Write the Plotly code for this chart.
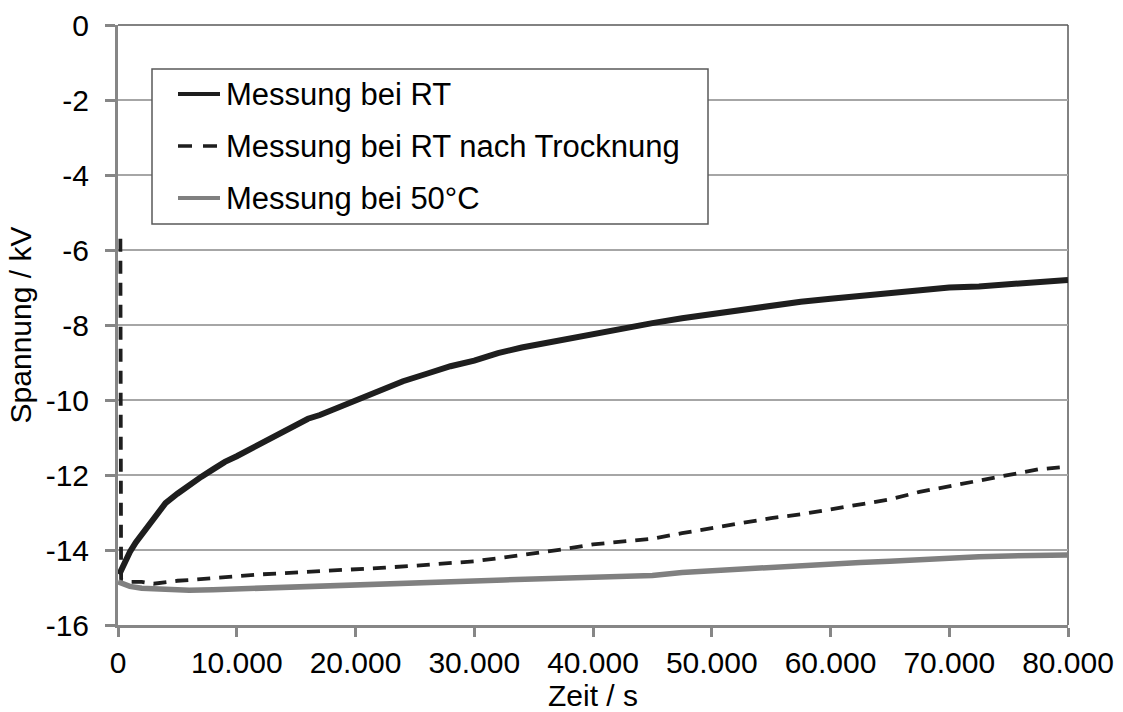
import plotly.graph_objects as go

# Zeit / s und Spannung / kV der drei Messreihen
t_rt = [100, 500, 1000, 1500, 2000, 2500, 3000, 4000, 5000, 6000, 7000, 8000, 9000,
        10000, 11000, 12000, 13000, 14000, 15000, 16000, 17000, 18000, 19000, 20000,
        22000, 24000, 26000, 28000, 30000, 32000, 34000, 36000, 38000, 40000,
        42500, 45000, 47500, 50000, 52500, 55000, 57500, 60000, 62500, 65000,
        67500, 70000, 72500, 75000, 77500, 80000]
u_rt = [-14.65, -14.35, -14.05, -13.80, -13.58, -13.38, -13.15, -12.75, -12.50, -12.25,
        -12.05, -11.85, -11.65, -11.50, -11.33, -11.18, -11.00, -10.85, -10.65, -10.50,
        -10.40, -10.27, -10.12, -10.00, -9.75, -9.50, -9.30, -9.10, -8.95, -8.75,
        -8.60, -8.48, -8.35, -8.22, -8.08, -7.95, -7.82, -7.70, -7.58, -7.48,
        -7.38, -7.30, -7.22, -7.15, -7.07, -7.00, -6.97, -6.92, -6.85, -6.80]

t_dry = [200, 260, 1000, 2000, 3000, 4000, 5000, 6000, 7000, 8000, 10000, 12000,
         14000, 16000, 18000, 20000, 22500, 25000, 27500, 30000, 32500, 35000,
         37500, 40000, 42500, 45000, 47500, 50000, 52500, 55000, 57500, 60000,
         62500, 65000, 67500, 70000, 72500, 75000, 77500, 80000]
u_dry = [-5.70, -14.80, -14.85, -14.85, -14.90, -14.85, -14.82, -14.80, -14.78, -14.75,
         -14.70, -14.65, -14.62, -14.58, -14.56, -14.52, -14.47, -14.42, -14.36, -14.30,
         -14.20, -14.10, -13.98, -13.85, -13.78, -13.70, -13.55, -13.42, -13.28, -13.15,
         -13.05, -12.92, -12.80, -12.65, -12.45, -12.30, -12.15, -12.02, -11.85, -11.78]

t_50 = [0, 1000, 2000, 4000, 6000, 8000, 10000, 12000, 15000, 18000, 20000, 22500,
        25000, 27500, 30000, 32500, 35000, 37500, 40000, 42500, 45000, 47500, 50000,
        52500, 55000, 57500, 60000, 62500, 65000, 67500, 70000, 72500, 75000, 77500,
        80000]
u_50 = [-14.85, -14.97, -15.02, -15.06, -15.07, -15.06, -15.04, -15.02, -15.00, -14.98,
        -14.96, -14.93, -14.90, -14.87, -14.85, -14.80, -14.77, -14.75, -14.73, -14.72,
        -14.68, -14.60, -14.55, -14.50, -14.45, -14.42, -14.38, -14.33, -14.30, -14.25,
        -14.22, -14.18, -14.16, -14.15, -14.13]

series_names = ["Messung bei RT", "Messung bei RT nach Trocknung", "Messung bei 50°C"]

x_tickvals = [0, 10000, 20000, 30000, 40000, 50000, 60000, 70000, 80000]
x_ticktext = ["0", "10.000", "20.000", "30.000", "40.000", "50.000", "60.000", "70.000", "80.000"]
y_tickvals = [0, -2, -4, -6, -8, -10, -12, -14, -16]
y_ticktext = ["0", "-2", "-4", "-6", "-8", "-10", "-12", "-14", "-16"]

FONT = "Liberation Sans, Arial, Helvetica, sans-serif"
AXIS_GREY = "#868686"
GRID_GREY = "#a6a6a6"
BORDER = "#595959"
DARK = "#1e1e1e"
GREY_LINE = "#808080"
DASH = "13px,9px"

styles = [
    dict(color=DARK, width=6),
    dict(color=DARK, width=3.8, dash=DASH),
    dict(color=GREY_LINE, width=5.5),
]

fig = go.Figure()
for (tx, uy), name, st in zip([(t_rt, u_rt), (t_dry, u_dry), (t_50, u_50)],
                              series_names, styles):
    fig.add_trace(go.Scatter(x=tx, y=uy, mode="lines", name=name,
                             showlegend=False, line=st))

# plot area in pixels: x 118..1068, y 25..625
L, R, T, B = 118, 1068, 25, 625
def px(xp):
    return (xp - L) / (R - L)
def py(yp):
    return (B - yp) / (B - T)

fig.update_layout(
    width=1123, height=712,
    margin=dict(l=L, r=1123 - R, t=T, b=712 - B),
    paper_bgcolor="white", plot_bgcolor="white",
    font=dict(family=FONT, size=30, color="#000000"),
    showlegend=False,
    xaxis=dict(range=[0, 80000], tickvals=x_tickvals, ticktext=x_ticktext,
               automargin=False,
               showgrid=False, zeroline=False,
               showline=True, linecolor=AXIS_GREY, linewidth=3,
               ticks="outside", ticklen=9, tickwidth=2.5, tickcolor=AXIS_GREY,
               title=dict(text="Zeit / s", standoff=9, font=dict(size=30))),
    yaxis=dict(range=[-16, 0], tickvals=y_tickvals, ticktext=y_ticktext,
               automargin=False,
               showgrid=True, gridcolor=GRID_GREY, gridwidth=1.5, zeroline=False,
               showline=True, linecolor=AXIS_GREY, linewidth=3,
               ticks="outside", ticklen=10, tickwidth=2.5, tickcolor=AXIS_GREY,
               ticklabelstandoff=10,
               title=dict(text="Spannung / kV", standoff=6, font=dict(size=30))),
    xaxis2=dict(overlaying="x", matches="x", anchor="y", side="bottom",
                automargin=False,
                range=[0, 80000], tickvals=x_tickvals, showticklabels=False,
                showgrid=False, zeroline=False, showline=False,
                ticks="inside", ticklen=9, tickwidth=2.5, tickcolor=AXIS_GREY),
)

# thin frame on top and right of the plot area
fig.add_shape(type="line", xref="paper", yref="paper", x0=0, x1=1, y0=1, y1=1,
              line=dict(color=BORDER, width=1.5), layer="below")
fig.add_shape(type="line", xref="paper", yref="paper", x0=1, x1=1, y0=0, y1=1,
              line=dict(color=BORDER, width=1.5), layer="below")

# legend box with line samples
fig.add_shape(type="rect", xref="paper", yref="paper",
              x0=px(152), x1=px(708), y0=py(224), y1=py(69),
              line=dict(color=BORDER, width=1.5), fillcolor="white", layer="above")
row_y = [94, 146, 198]
for yy, name, st in zip(row_y, series_names, styles):
    sample = dict(color=st["color"], width=3.5 if "dash" in st else 4,
                  dash="14px,11px" if "dash" in st else "solid")
    fig.add_shape(type="line", xref="paper", yref="paper",
                  x0=px(178), x1=px(220), y0=py(yy), y1=py(yy),
                  line=sample, layer="above")
    fig.add_annotation(x=px(224), y=py(yy), xref="paper", yref="paper",
                       text=name, showarrow=False, xanchor="left", yanchor="middle",
                       font=dict(family=FONT, size=31, color="#000000"))

fig.write_html("out.html")
